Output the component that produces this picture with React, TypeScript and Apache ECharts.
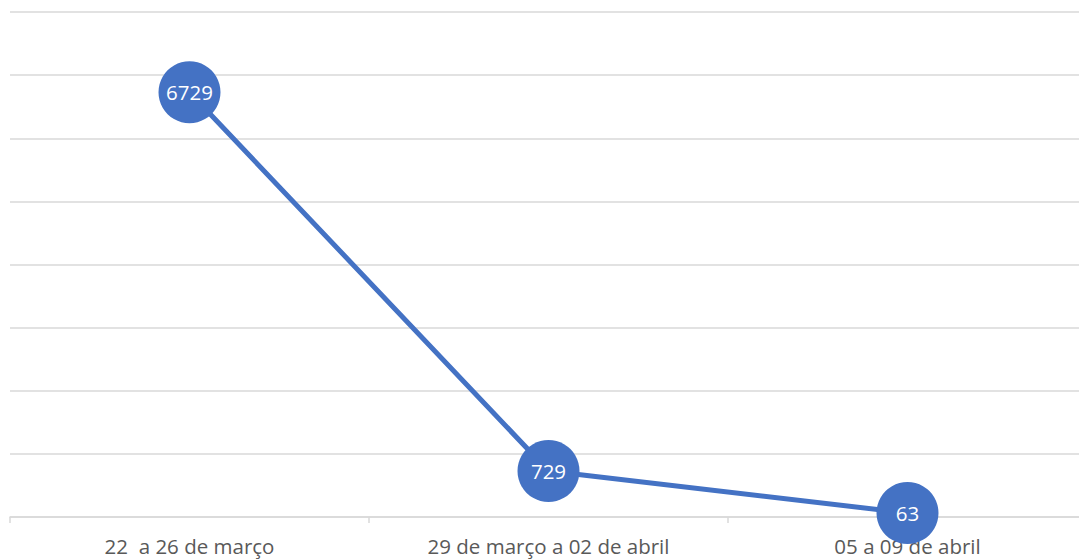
import React, { useEffect, useRef } from "react";
import * as echarts from "echarts";

const categories = ["22  a 26 de março", "29 de março a 02 de abril", "05 a 09 de abril"];
const values = [6729, 729, 63];
const yMin = 0;
const yMax = 8000;
const yInterval = 1000;

export default function App() {
  const ref = useRef<HTMLDivElement>(null);
  useEffect(() => {
    if (!ref.current) return;
    const chart = echarts.init(ref.current, null, { renderer: "svg" });
    chart.setOption({
      animation: false,
      grid: { left: 10, right: 3, top: 12, bottom: 43, containLabel: false },
      xAxis: {
        type: "category",
        data: categories,
        boundaryGap: true,
        axisLine: { lineStyle: { color: "#d9d9d9", width: 1.5 } },
        axisTick: { show: true, length: 6, lineStyle: { color: "#d9d9d9", width: 1.5 } },
        axisLabel: {
          color: "#595959",
          fontSize: 20.5,
          fontFamily: "Open Sans",
          margin: 18,
        },
      },
      yAxis: {
        type: "value",
        min: yMin,
        max: yMax,
        interval: yInterval,
        axisLabel: { show: false },
        axisLine: { show: false },
        axisTick: { show: false },
        splitLine: { lineStyle: { color: "#d9d9d9", width: 1.5 } },
      },
      series: [
        {
          type: "line",
          data: values,
          symbol: "circle",
          symbolSize: 62,
          itemStyle: { color: "#4472C4" },
          lineStyle: { color: "#4472C4", width: 5 },
          label: {
            show: true,
            position: "inside",
            color: "#ffffff",
            fontSize: 20.5,
            fontFamily: "Open Sans",
          },
        },
      ],
    });
    return () => chart.dispose();
  }, []);
  return (
    <div style={{ position: "absolute", left: 0, top: 0, width: 1079, height: 560, overflow: "hidden" }}>
      <div
        ref={ref}
        style={{ position: "absolute", left: 0, top: 0, width: 1090, height: 560 }}
      />
    </div>
  );
}
